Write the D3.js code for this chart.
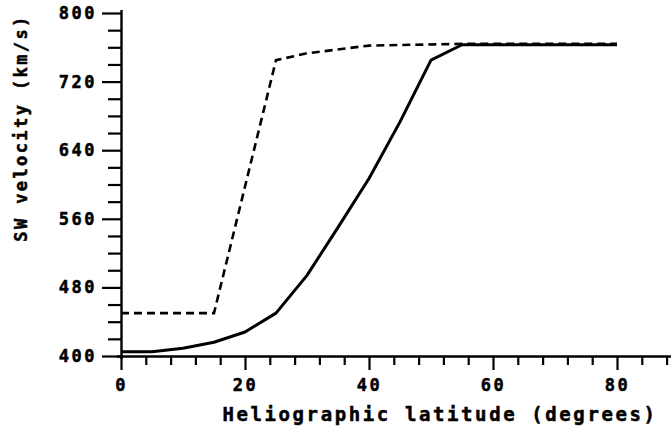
<!DOCTYPE html>
<html>
<head>
<meta charset="utf-8">
<script src="https://cdn.jsdelivr.net/npm/d3@7"></script>
<style>
  html, body { margin: 0; padding: 0; background: #fff; }
  svg { display: block; }
  text { font-family: "DejaVu Sans Mono", "Liberation Mono", monospace; font-weight: bold; fill: #000; stroke: #000; stroke-width: 0.5px; }
</style>
</head>
<body>
<svg id="chart" width="671" height="431"></svg>
<script>
// ---- data ----
const solidLat = [0, 5, 10, 15, 20, 25, 30, 35, 40, 45, 50, 55, 80];
const solidVel = [405, 405, 409, 416, 428, 450, 494, 550, 607, 673, 745, 763, 763];
const dashedLat = [0, 15, 25, 30, 40, 55, 80];
const dashedVel = [450, 450, 745, 753, 762, 764, 764];
const xTickValues = d3.range(0, 89, 4);
const xLabelValues = [0, 20, 40, 60, 80];
const yTickValues = d3.range(400, 801, 20);
const yLabelValues = [400, 480, 560, 640, 720, 800];
const xTitle = "Heliographic latitude (degrees)";
const yTitle = "SW velocity (km/s)";

const svg = d3.select("#chart");
const x = d3.scaleLinear().domain([0, 80]).range([121, 617]);
const y = d3.scaleLinear().domain([400, 800]).range([356, 13]);
const xEnd = 671;

// axes
const xAxis = svg.append("g").attr("transform", `translate(0,${y(400)})`)
  .call(d3.axisBottom(x).tickValues(xTickValues)
    .tickFormat(d => xLabelValues.includes(d) ? d : "").tickSizeOuter(0));
xAxis.select(".domain").attr("d", `M${x(0) - 4},0.5H${xEnd}`);
xAxis.selectAll(".tick line")
  .attr("y2", d => xLabelValues.includes(d) ? 14 : 9)
  .attr("stroke-width", 2.2);
xAxis.selectAll(".tick text")
  .attr("y", 23).attr("dy", "0.71em")
  .style("font-size", "17px").style("letter-spacing", "2.5px");

const yAxis = svg.append("g").attr("transform", `translate(${x(0)},0)`)
  .call(d3.axisLeft(y).tickValues(yTickValues)
    .tickFormat(d => yLabelValues.includes(d) ? d : "").tickSizeOuter(0));
yAxis.select(".domain").attr("d", `M0.5,${y(800) - 3}V${y(400) + 3}`);
yAxis.selectAll(".tick line")
  .attr("x2", d => yLabelValues.includes(d) ? -19 : -13)
  .attr("stroke-width", 2.2);
yAxis.selectAll(".tick text")
  .attr("x", -24)
  .style("font-size", "17px").style("letter-spacing", "2.5px");

svg.selectAll(".domain").attr("stroke", "#000").attr("stroke-width", 2.4);

// lines
const lineSolid = d3.line().x((d, i) => x(solidLat[i])).y(d => y(d));
const lineDashed = d3.line().x((d, i) => x(dashedLat[i])).y(d => y(d));

svg.append("path").datum(dashedVel)
  .attr("d", lineDashed)
  .attr("fill", "none").attr("stroke", "#000")
  .attr("stroke-width", 2.6).attr("stroke-dasharray", "8,5");

svg.append("path").datum(solidVel)
  .attr("d", lineSolid)
  .attr("fill", "none").attr("stroke", "#000")
  .attr("stroke-width", 3).attr("stroke-linejoin", "round");

// titles
svg.append("text")
  .attr("x", 440).attr("y", 421)
  .attr("text-anchor", "middle")
  .style("font-size", "19px").style("letter-spacing", "2.6px")
  .text(xTitle);

svg.append("text")
  .attr("transform", `translate(27,128) rotate(-90)`)
  .attr("text-anchor", "middle")
  .style("font-size", "17px").style("letter-spacing", "2.4px")
  .text(yTitle);
</script>
</body>
</html>
